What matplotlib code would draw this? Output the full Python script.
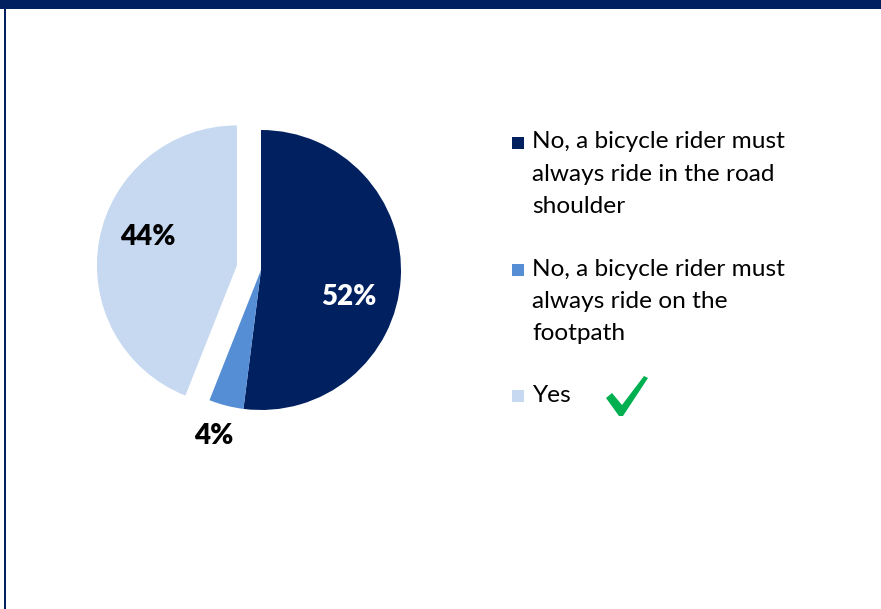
import matplotlib
matplotlib.use("Agg")
import matplotlib.pyplot as plt
from matplotlib.patches import Rectangle, Polygon

# Survey answers and shares (%)
categories = [
    "No, a bicycle rider must\nalways ride in the road\nshoulder",
    "No, a bicycle rider must\nalways ride on the\nfootpath",
    "Yes",
]
shares = [52, 4, 44]
colors = ["#002060", "#558ED5", "#C6D9F1"]
label_colors = ["white", "black", "black"]
explode_frac = [0, 0, 0.175]

W, H = 881, 609
fig = plt.figure(figsize=(W / 100, H / 100), dpi=100)
fig.patch.set_facecolor("white")

# Axes in pixel-like units, origin bottom-left
ax = fig.add_axes([0, 0, 1, 1])
ax.set_xlim(0, W)
ax.set_ylim(0, H)
ax.set_aspect("equal")
ax.axis("off")

font = "Lato"
navy = "#002060"

# Frame: thick band on top, thin rule on the left
ax.add_patch(Rectangle((0, H - 9), W, 9, color=navy, lw=0, zorder=5))
ax.add_patch(Rectangle((3.5, 0), 2, H, color=navy, lw=0, zorder=5))

cx, cy, r = 261, H - 270, 140
wedges, _ = ax.pie(shares, colors=colors, startangle=90, counterclock=False,
                   explode=[e * r for e in explode_frac], center=(cx, cy),
                   radius=r, wedgeprops=dict(linewidth=0))
ax.set_xlim(0, W)
ax.set_ylim(0, H)

# Percent labels
label_pos = [(349, 297), (214, 436), (148, 237)]
for val, (lx, ly), c in zip(shares, label_pos, label_colors):
    ax.text(lx, H - ly, f"{val}%", color=c, fontsize=20, fontweight="heavy",
            family=font, ha="center", va="center")

# Legend
legend_y = [142, 269, 395]
line_gap = 32.3
for cat, col, y0 in zip(categories, colors, legend_y):
    ax.add_patch(Rectangle((512, H - y0 - 6.5), 12, 12, color=col, lw=0))
    for i, line in enumerate(cat.split("\n")):
        ax.text(532, H - (y0 + i * line_gap), line, fontsize=17.6, family=font,
                color="black", ha="left", va="center")

# Green tick beside the correct answer
tick = [(606, 398), (612, 393), (622, 405), (644, 376), (648, 378),
        (623, 416), (619, 416)]
ax.add_patch(Polygon([(x, H - y) for x, y in tick], closed=True,
                     color="#00B050", lw=0))

fig.savefig("out.png", dpi=100, facecolor="white")
